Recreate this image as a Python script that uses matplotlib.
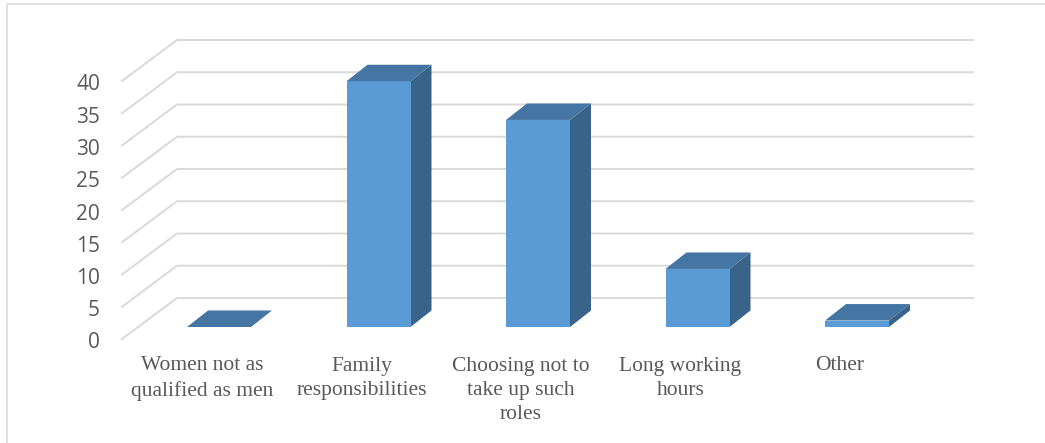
import matplotlib.pyplot as plt

categories = ["Women not as\nqualified as men", "Family\nresponsibilities",
              "Choosing not to\ntake up such\nroles", "Long working\nhours", "Other"]
values = [0, 38.1, 32.1, 9, 1]
y_ticks = [0, 5, 10, 15, 20, 25, 30, 35, 40]

W, H = 1045, 443
BAR_PX = 159.5      # spacing between categories
UNIT_PX = 6.45      # pixels per value unit
X0_PX, Y0_PX = 219, 327  # first bar centre, bar base

fig = plt.figure(figsize=(W / 100, H / 100), dpi=100)
ax = fig.add_axes([0, 0, 1, 1])
ax.set_xlim(-X0_PX / BAR_PX, (W - X0_PX) / BAR_PX)
ax.set_ylim((Y0_PX - H) / UNIT_PX, Y0_PX / UNIT_PX)
ax.axis("off")

# 3d offsets in data units
half = 32 / BAR_PX
dx = 21 / BAR_PX
dy = 16.5 / UNIT_PX
front_y = -12 / UNIT_PX
back_y = 29 / UNIT_PX
wall_l = (122 - X0_PX) / BAR_PX
wall_m = (177 - X0_PX) / BAR_PX
wall_r = (973 - X0_PX) / BAR_PX

# grid on floor / wall
for v in y_ticks:
    ax.plot([wall_l, wall_m, wall_r], [v + front_y, v + back_y, v + back_y],
            color="#d9d9d9", lw=1.4, zorder=1, solid_joinstyle="miter")
    ax.text(wall_l - 22 / BAR_PX, v + front_y - 4 / UNIT_PX, str(v), ha="right", va="center",
            fontsize=15, color="#595959", family="Open Sans")

for i, (cat, val) in enumerate(zip(categories, values)):
    l, r = i - half, i + half
    # side
    ax.fill([r, r + dx, r + dx, r], [0, dy, val + dy, val], color="#38638a", lw=0, zorder=3)
    # front
    ax.fill([l, r, r, l], [0, 0, val, val], color="#5b9bd5", lw=0, zorder=4)
    # top
    ax.fill([l, r, r + dx, l + dx], [val, val, val + dy, val + dy], color="#4475a3", lw=0, zorder=5)
    ax.text(i - 17 / BAR_PX, -29.5 / UNIT_PX, cat, ha="center", va="top", fontsize=15.5,
            color="#595959", family="Liberation Serif", linespacing=1.36)

# chart border
ax.plot([(7 - X0_PX) / BAR_PX, (7 - X0_PX) / BAR_PX, (W - X0_PX) / BAR_PX],
        [(Y0_PX - H) / UNIT_PX, (Y0_PX - 4) / UNIT_PX, (Y0_PX - 4) / UNIT_PX],
        color="#d9d9d9", lw=1.1)

fig.savefig("out.png", dpi=100)
